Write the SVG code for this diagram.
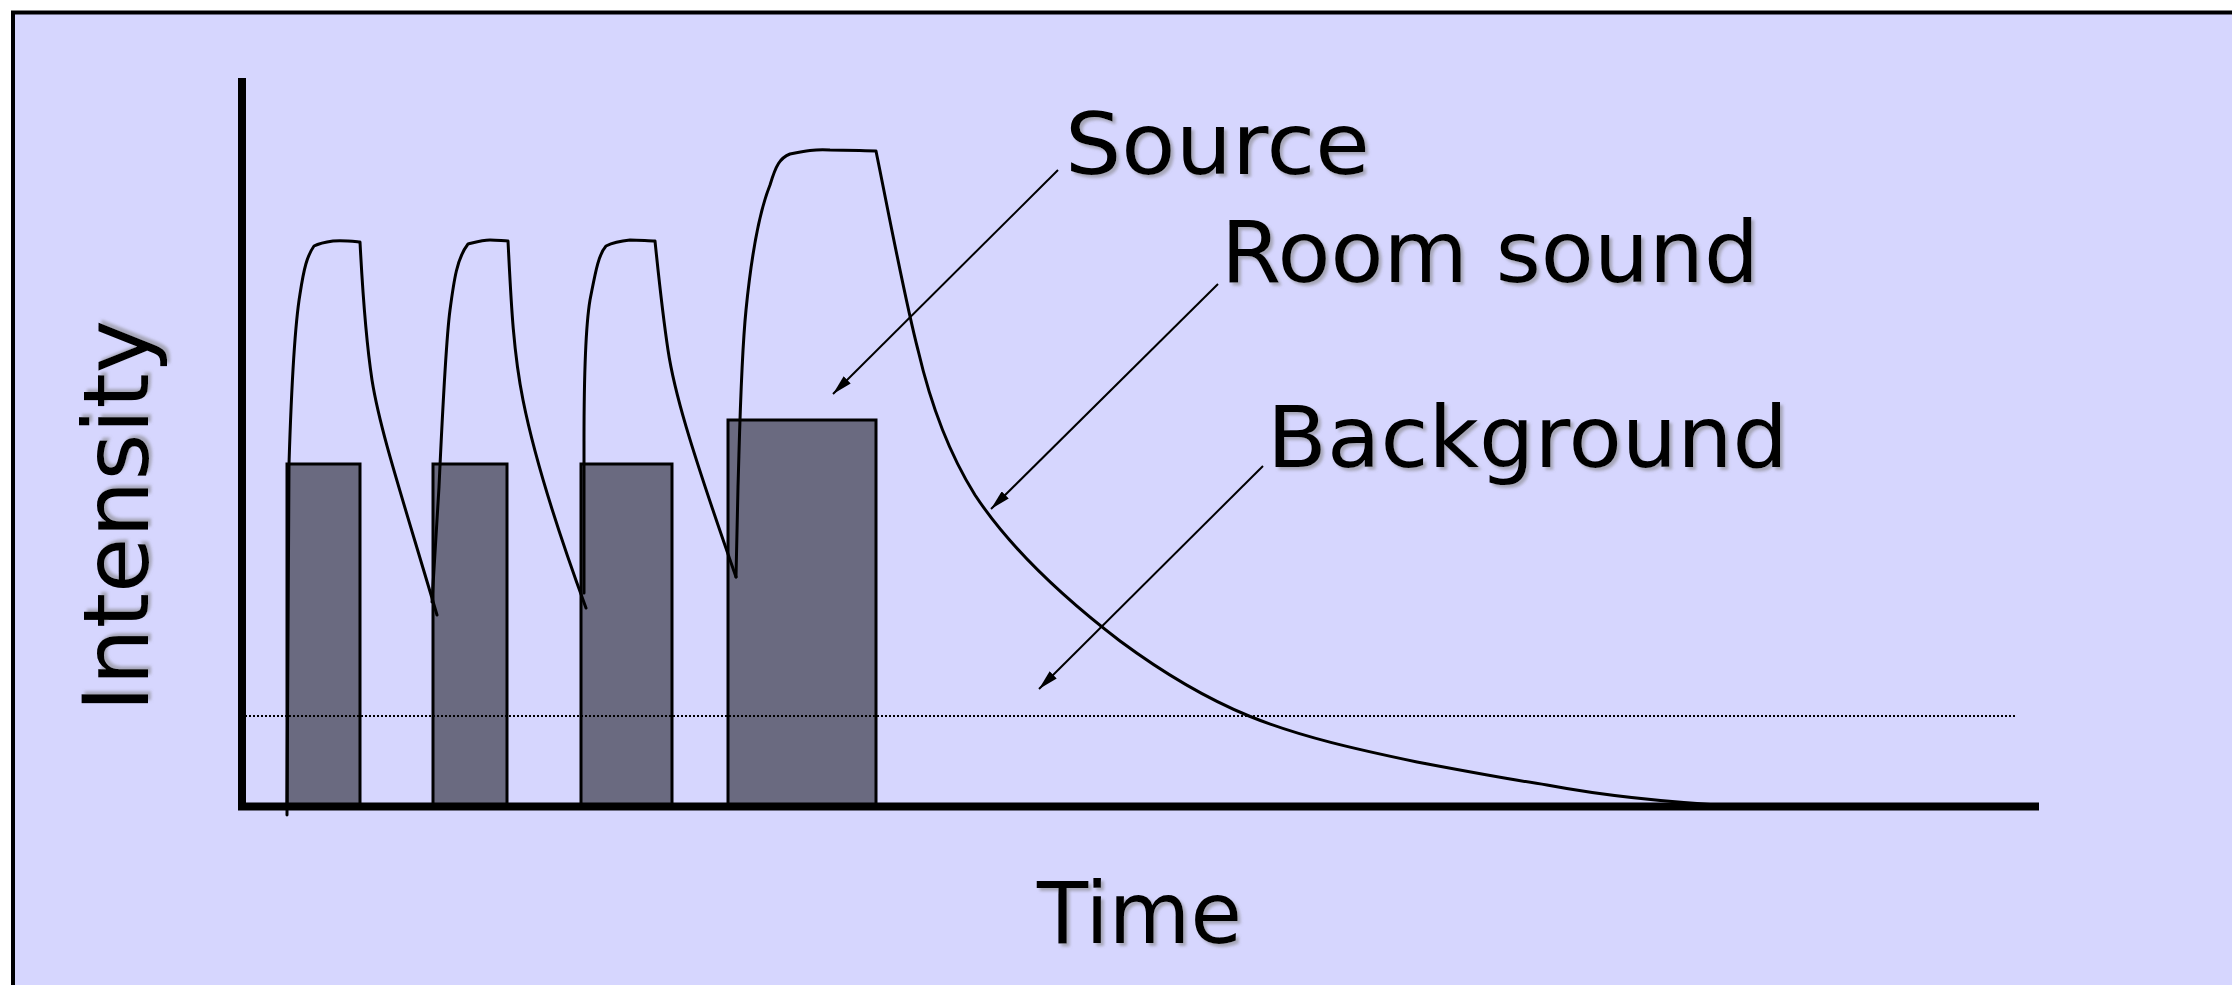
<svg xmlns="http://www.w3.org/2000/svg" width="2232" height="985" viewBox="0 0 2232 985">
<defs>
<style>
.lbl{font-family:"DejaVu Sans","Liberation Sans",sans-serif;font-size:86px;fill:#000;filter:url(#sh)}
.curve{fill:none;stroke:#000;stroke-width:3;stroke-linejoin:round;stroke-linecap:round}
.bar{fill:#6A6A80;stroke:#000;stroke-width:3}
.arr{stroke:#000;stroke-width:2;fill:none;marker-end:url(#ah)}
.axis{stroke:#000;stroke-width:8;fill:none}
</style>
<filter id="sh" x="-10%" y="-10%" width="130%" height="130%">
<feDropShadow dx="3" dy="3" stdDeviation="1.5" flood-color="#808080" flood-opacity="0.55"/>
</filter>
<marker id="ah" viewBox="0 0 20 10" refX="20" refY="5" markerWidth="20" markerHeight="10" markerUnits="userSpaceOnUse" orient="auto">
<path d="M0,0 L20,5 L0,10 z" fill="#000"/>
</marker>
</defs>
<rect x="0" y="0" width="2232" height="985" fill="#fff"/>
<rect id="frame" x="13" y="12.5" width="2240" height="1000" fill="#D6D6FE" stroke="#000" stroke-width="4"/>

<g id="bars">
<rect id="bar1" class="bar" x="287" y="464" width="73" height="342"/>
<rect id="bar2" class="bar" x="433" y="464" width="74" height="342"/>
<rect id="bar3" class="bar" x="581" y="464" width="91" height="342"/>
<rect id="bar4" class="bar" x="728" y="420" width="148" height="386"/>
</g>

<g id="axes">
<line class="axis" x1="242" y1="78" x2="242" y2="810"/>
<line class="axis" x1="238" y1="806.5" x2="2039" y2="806.5"/>
<line x1="245" y1="716" x2="2016" y2="716" stroke="#000" stroke-width="2" stroke-dasharray="2 2"/>
</g>

<g id="sound-curve">
<path class="curve" d="M287,815 L289,464 C291,400 294,330 300,294 C304,268 307,256 314,246 C320,243 326,242 333,241 C342,240 350,241 360,242 C363,300 366,340 372,380 C380,430 400,490 437,615"/>
<path class="curve" d="M432,602 L439,487 C443,400 446,340 450,310 C454,280 457,258 468,244 C476,242 482,240 490,240 C498,240 503,241 508,241 C511,300 513,350 523,400 C533,450 550,510 586,608"/>
<path class="curve" d="M584,593 L584,441 C584,380 585,330 590,300 C595,275 598,255 606,246 C614,242 620,241 630,240 C640,240 648,241 655,241 C658,270 662,310 668,350 C674,390 688,440 736,577"/>
<path class="curve" d="M736,577 L738,487 C740,420 741,360 746,310 C751,260 758,215 770,185 C776,165 780,158 790,154 C805,151 815,149 830,150 C850,150 865,151 876,151 C890,220 905,300 918,350 C932,410 950,455 975,495 C1010,548 1060,595 1120,641 C1170,678 1210,700 1249,716 C1300,737 1360,750 1417,762 C1470,772 1520,781 1547,785 C1600,795 1660,802 1737,806"/>
</g>

<g id="connectors">
<line class="arr" x1="1058" y1="170" x2="833" y2="394"/>
<line class="arr" x1="1218" y1="284" x2="991" y2="509"/>
<line class="arr" x1="1263" y1="466" x2="1039" y2="689"/>
</g>

<g id="labels">
<text id="lbl-source" class="lbl" x="1065" y="174" textLength="305" lengthAdjust="spacingAndGlyphs">Source</text>
<text id="lbl-room" class="lbl" x="1221" y="282" textLength="538" lengthAdjust="spacingAndGlyphs">Room sound</text>
<text id="lbl-background" class="lbl" x="1267" y="467" textLength="521" lengthAdjust="spacingAndGlyphs">Background</text>
<text id="lbl-time" class="lbl" x="1037" y="943" textLength="205" lengthAdjust="spacingAndGlyphs">Time</text>
<text id="lbl-intensity" class="lbl" transform="translate(148,712) rotate(-90)" x="0" y="0" style="font-size:90px" textLength="392" lengthAdjust="spacingAndGlyphs">Intensity</text>
</g>
</svg>
